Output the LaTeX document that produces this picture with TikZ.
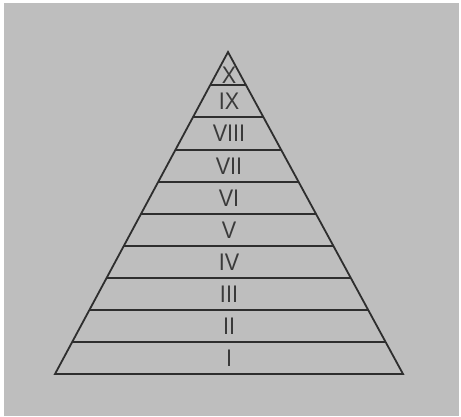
\documentclass[tikz,border=0pt]{standalone}
\usepackage{fontspec}
\setmainfont{Liberation Sans}
\usetikzlibrary{calc}
\definecolor{bg}{HTML}{BEBEBE}
\definecolor{ink}{HTML}{2E2E2E}
\definecolor{txt}{HTML}{3A3A3A}
\tikzset{
  tier/.style={line width=1.8pt, draw=ink},
  lbl/.style={inner sep=0pt, text=txt, font=\fontsize{24}{25}\selectfont},
}
\newcommand{\nar}[1]{\scalebox{0.9}[1]{#1}}
\begin{document}
\begin{tikzpicture}[x=1pt,y=-1pt]
\useasboundingbox (0,0) rectangle (461,416);
\fill[white] (0,0) rectangle (461,416);
\fill[bg] (4,3) rectangle (459,416);
\coordinate (apex) at (228,52);
\coordinate (bl) at (55,374);
\coordinate (br) at (403,374);
\draw[tier, line join=miter] (apex) -- (bl) -- (br) -- cycle;
\foreach \y [count=\i] in {85,117,150,182,214,246,278,310,342}{
  \pgfmathsetmacro{\t}{(\y-52)/322}
  \coordinate (L\i) at ($(apex)!\t!(bl)$);
  \coordinate (R\i) at ($(apex)!\t!(br)$);
  \draw[tier] (L\i) -- (R\i);
}
\node[lbl] (n10) at (229,75) {\nar{X}};
\node[lbl] (n9) at (229,101.5) {\nar{IX}};
\node[lbl] (n8) at (229,133.5) {\nar{VIII}};
\node[lbl] (n7) at (229,166) {\nar{VII}};
\node[lbl] (n6) at (229,198) {\nar{VI}};
\node[lbl] (n5) at (229,230) {\nar{V}};
\node[lbl] (n4) at (229,262) {\nar{IV}};
\node[lbl] (n3) at (229,294) {\nar{III}};
\node[lbl] (n2) at (229,326) {\nar{II}};
\node[lbl] (n1) at (229,358) {\nar{I}};
\end{tikzpicture}
\end{document}
